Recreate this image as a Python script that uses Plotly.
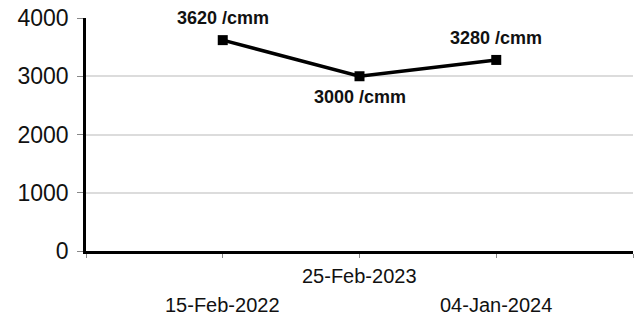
import plotly.graph_objects as go

dates = ["15-Feb-2022", "25-Feb-2023", "04-Jan-2024"]
values = [3620, 3000, 3280]
unit = "/cmm"
y_ticks = [0, 1000, 2000, 3000, 4000]

xs = list(range(len(dates)))

fig = go.Figure()
fig.add_trace(go.Scatter(
    x=xs, y=values, mode="lines+markers",
    line=dict(color="black", width=3.5),
    marker=dict(symbol="square", size=10, color="black"),
    hoverinfo="skip", showlegend=False,
))

annotations = []
shifts = [22, -21, 22]
for i, (v, s) in enumerate(zip(values, shifts)):
    annotations.append(dict(
        x=xs[i], y=v, xref="x", yref="y", text=f"<b>{v} {unit}</b>",
        showarrow=False, yshift=s, yanchor="middle", xanchor="center",
        font=dict(family="Liberation Sans, Arial, sans-serif", size=18, color="#111"),
    ))
label_y = [-0.232, -0.107, -0.232]
for i, d in enumerate(dates):
    annotations.append(dict(
        x=xs[i], y=label_y[i], xref="x", yref="paper", text=d,
        showarrow=False, yanchor="middle", xanchor="center",
        font=dict(family="Liberation Sans, Arial, sans-serif", size=20, color="#111"),
    ))

fig.update_layout(
    width=639, height=319,
    margin=dict(l=86, r=6, t=18, b=68, autoexpand=False),
    paper_bgcolor="white", plot_bgcolor="white",
    annotations=annotations,
    xaxis=dict(
        range=[-1, len(dates)], tickvals=list(range(-1, len(dates) + 1)),
        ticktext=[""] * (len(dates) + 2),
        showgrid=False, zeroline=False,
        showline=True, linecolor="black", linewidth=2.5,
        ticks="outside", ticklen=4, tickcolor="#888", tickwidth=1,
        fixedrange=True, automargin=False,
    ),
    yaxis=dict(
        range=[0, 4000], tickvals=y_ticks,
        showgrid=True, gridcolor="#dcdcdc", gridwidth=1.5,
        zeroline=False,
        showline=True, linecolor="black", linewidth=2.5,
        ticks="outside", ticklen=6, tickcolor="#888", tickwidth=1,
        tickfont=dict(family="Liberation Sans, Arial, sans-serif", size=23, color="#111"),
        ticklabelstandoff=4,
        fixedrange=True, automargin=False,
    ),
)

fig.write_html(
    "out.html",
    config={"displayModeBar": False},
    post_script="document.body.style.margin='0';document.body.style.overflow='hidden';",
)
